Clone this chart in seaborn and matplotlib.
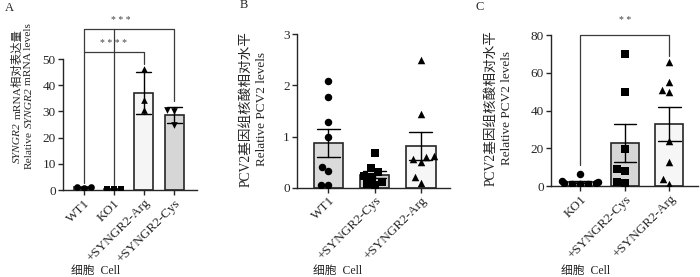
import matplotlib
matplotlib.use("Agg")
import matplotlib.pyplot as plt
import seaborn as sns
import pandas as pd

# panel A: SYNGR2 mRNA
a_groups = ["WT1", "KO1", "+SYNGR2-Arg", "+SYNGR2-Cys"]
a_wt1 = [1.0, 1.1, 0.9]
a_ko1 = [0.5, 0.5, 0.5]
a_arg = [46.0, 34.5, 30.5]
a_cys = [30.5, 30.0, 25.0]

# panel B: PCV2 levels
b_groups = ["WT1", "+SYNGR2-Cys", "+SYNGR2-Arg"]
b_wt1 = [2.09, 1.77, 1.28, 1.0, 0.33, 0.41, 0.05, 0.05]
b_cys = [0.67, 0.38, 0.3, 0.22, 0.2, 0.12, 0.07, 0.06]
b_arg = [2.49, 1.44, 0.61, 0.62, 0.5, 0.56, 0.2, 0.1]

# panel C: PCV2 levels
c_groups = ["KO1", "+SYNGR2-Cys", "+SYNGR2-Arg"]
c_ko1 = [6.4, 2.5, 2.0, 1.8, 1.5, 1.2, 1.0, 0.8]
c_cys = [70.0, 49.8, 19.6, 8.1, 9.2, 1.6, 1.9]
c_arg = [65.7, 54.9, 50.0, 50.7, 24.0, 12.5, 1.2, 3.7]

sns.set_style("ticks")
plt.rcParams['font.family'] = ['Liberation Serif', 'Noto Sans CJK SC']
plt.rcParams['axes.unicode_minus'] = False

EDGE = "#262626"
W, H = 700, 277


def make_df(groups, values):
    rows = []
    for g, vals in zip(groups, values):
        for v in vals:
            rows.append((g, v))
    return pd.DataFrame(rows, columns=["group", "value"])


def panel(ax, groups, values, colors, markers, err, width, msize):
    df = make_df(groups, values)
    sns.barplot(data=df, x="group", y="value", hue="group", order=groups,
                hue_order=groups, palette=colors, legend=False, width=width,
                errorbar=err, capsize=0.5, edgecolor=EDGE, linewidth=1.2,
                err_kws={"color": "black", "linewidth": 1.0}, ax=ax)
    for g, m in zip(groups, markers):
        sns.swarmplot(data=df[df.group == g], x="group", y="value", order=groups,
                      marker=m, color="black", size=msize, ax=ax, zorder=5)
    sns.despine(ax=ax)
    for s in ["left", "bottom"]:
        ax.spines[s].set_linewidth(1.0)
        ax.spines[s].set_color(EDGE)
    ax.tick_params(axis="both", length=3.5, width=1.0, color=EDGE, pad=1.5)
    ax.tick_params(axis="y", labelsize=9.5)
    ax.tick_params(axis="x", labelsize=9.5)
    ax.set_xlabel("")
    ax.set_ylabel("")
    for lab in ax.get_xticklabels():
        lab.set_rotation(45)
        lab.set_ha("right")
        lab.set_rotation_mode("anchor")


def bracket(ax, pts):
    xs = [p[0] for p in pts]
    ys = [p[1] for p in pts]
    ax.plot(xs, ys, color="#3a3a3a", lw=0.9, clip_on=False, zorder=6)


def vertical_line(fig, xc, yc, pieces, size):
    # one rotated label line built from pieces (text, style, gap after in px)
    r = fig.canvas.get_renderer()
    texts = []
    total = 0
    for s, style, gap in pieces:
        t = fig.text(0, 0, s, rotation=90, rotation_mode="anchor", ha="left",
                     va="center", fontsize=size, style=style)
        h = t.get_window_extent(r).height
        texts.append((t, h, gap))
        total += h + gap
    y = (H - yc) - total / 2
    for t, h, gap in texts:
        t.set_position((xc / W, y / H))
        y += h + gap


fig = plt.figure(figsize=(7.0, 2.77), dpi=100)
axA = fig.add_axes([0.0896, 0.314, 0.1914, 0.473])
axB = fig.add_axes([0.4239, 0.3224, 0.219, 0.5538])
axC = fig.add_axes([0.7867, 0.3285, 0.2104, 0.545])

# A
panel(axA, a_groups, [a_wt1, a_ko1, a_arg, a_cys],
      ["#ffffff", "#ffffff", "#f5f5f5", "#d6d6d6"], ["o", "s", "^", "v"],
      "sd", 0.63, 4.8)
axA.set_ylim(0, 50)
axA.set_yticks([0, 10, 20, 30, 40, 50])
axA.set_xlim(-0.69, 3.75)
bracket(axA, [(0, 2.5), (0, 52.5), (2, 52.5), (2, 48)])
bracket(axA, [(0, 52.5), (0, 61.3), (3, 61.3), (3, 34)])
bracket(axA, [(1, 2.0), (1, 61.3)])
axA.text(1.0, 55.8, "* * * *", ha="center", va="center", fontsize=7, color="#444444")
axA.text(1.25, 64.6, "* * *", ha="center", va="center", fontsize=7, color="#444444")

# B
panel(axB, b_groups, [b_wt1, b_cys, b_arg],
      ["#dadada", "#d2d2d2", "#f6f6f6"], ["o", "s", "^"], "se", 0.65, 5.4)
axB.set_ylim(0, 3)
axB.set_yticks([0, 1, 2, 3])
axB.set_xlim(-0.69, 2.64)

# C
panel(axC, c_groups, [c_ko1, c_cys, c_arg],
      ["#ffffff", "#d6d6d6", "#f6f6f6"], ["o", "s", "^"], "se", 0.63, 5.4)
axC.set_ylim(0, 80)
axC.set_yticks([0, 20, 40, 60, 80])
axC.set_xlim(-0.66, 2.64)
bracket(axC, [(0, 11), (0, 80), (2, 80), (2, 69)])
axC.text(1.0, 87.5, "* *", ha="center", va="center", fontsize=7, color="#444444")

# y labels
vertical_line(fig, 17, 96, [("SYNGR2", "italic", 3), ("mRNA相对表达量", "normal", 0)], 8.2)
vertical_line(fig, 29, 96, [("Relative", "normal", 3), ("SYNGR2", "italic", 3),
                            ("mRNA levels", "normal", 0)], 8.2)
for xc, yc in [(246, 109), (491, 108)]:
    vertical_line(fig, xc, yc, [("PCV2基因组核酸相对水平", "normal", 0)], 9.8)
    vertical_line(fig, xc + 16, yc, [("Relative PCV2 levels", "normal", 0)], 9.5)

# cell labels and panel letters
for x in [0.137, 0.482, 0.836]:
    fig.text(x, 0.022, "细胞  Cell", ha="center", va="center", fontsize=8.5)
fig.text(0.007, 0.971, "A", ha="left", va="center", fontsize=9)
fig.text(0.343, 0.982, "B", ha="left", va="center", fontsize=9)
fig.text(0.679, 0.975, "C", ha="left", va="center", fontsize=9)

fig.savefig("out.png", dpi=100)
